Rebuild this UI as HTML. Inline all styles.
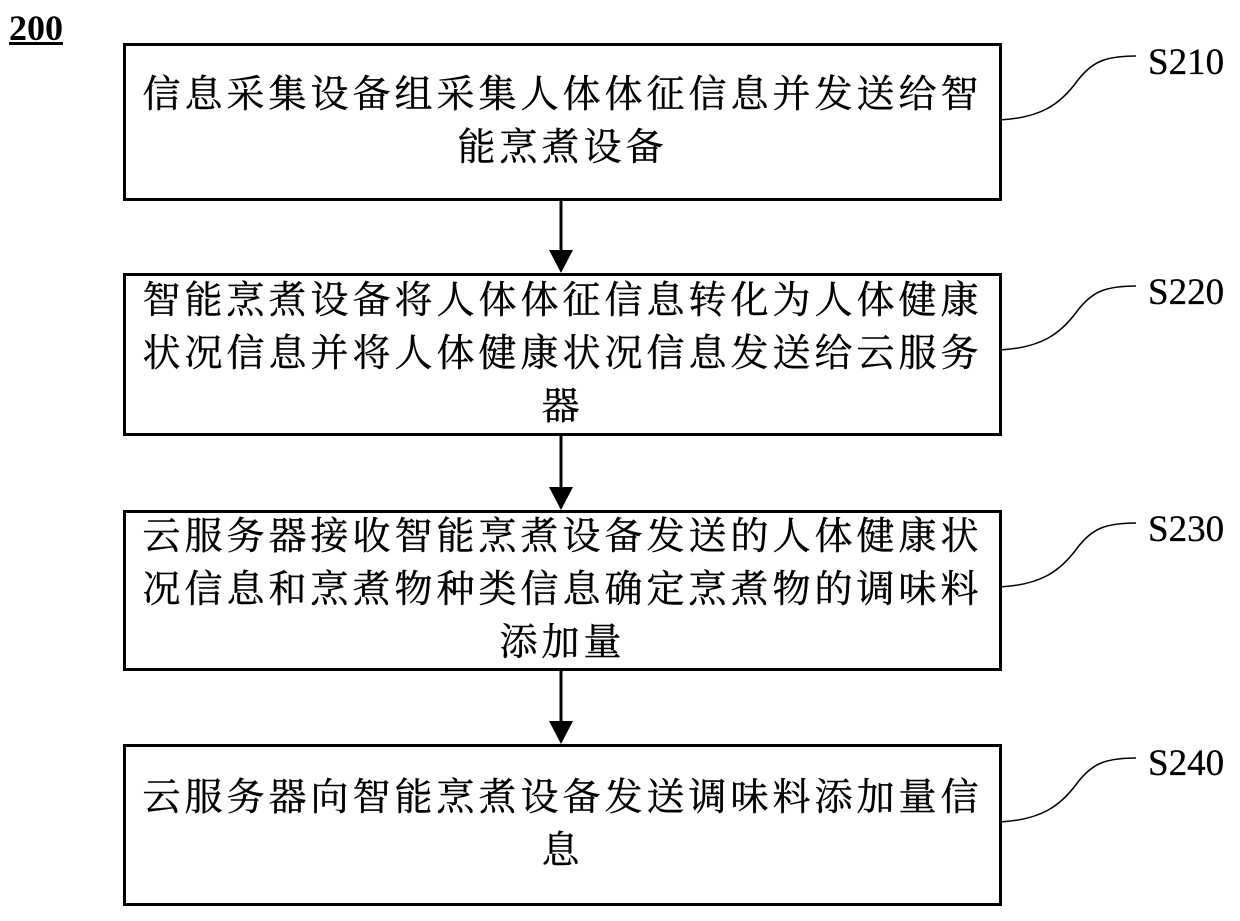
<!DOCTYPE html>
<html><head><meta charset="utf-8"><style>
body{margin:0;width:1240px;height:921px;background:#fff;position:relative;overflow:hidden}
.b{position:absolute;left:123px;width:873px;border:3px solid #000;display:flex;align-items:center;justify-content:center}
.t{width:846px;text-align:center;font-family:"Liberation Serif","Noto Serif CJK SC","Noto Sans CJK SC",serif;font-size:38px;letter-spacing:4px;line-height:53px;color:#000;-webkit-text-stroke:0.4px #000}
.l{position:absolute;left:1148px;font-family:"Liberation Serif",serif;font-size:37px;line-height:36px;-webkit-text-stroke:0.3px #000}
svg{position:absolute;left:0;top:0}
</style></head><body>
<div style="position:absolute;left:9px;top:9px;font-family:'Liberation Serif',serif;font-weight:bold;font-size:36px;text-decoration:underline;line-height:38px">200</div>
<div class="b" style="top:43px;height:152px"><div class="t">信息采集设备组采集人体体征信息并发送给智能烹煮设备</div></div>
<div class="b" style="top:273px;height:157px"><div class="t">智能烹煮设备将人体体征信息转化为人体健康状况信息并将人体健康状况信息发送给云服务器</div></div>
<div class="b" style="top:510px;height:155px"><div class="t">云服务器接收智能烹煮设备发送的人体健康状况信息和烹煮物种类信息确定烹煮物的调味料添加量</div></div>
<div class="b" style="top:744px;height:156px"><div class="t">云服务器向智能烹煮设备发送调味料添加量信息</div></div>
<svg width="1240" height="921">
<g stroke="#000" stroke-width="3" fill="#000">
<line x1="561" y1="201" x2="561" y2="255"/><polygon points="549,250 573,250 561,273" stroke="none"/>
<line x1="561" y1="436" x2="561" y2="492"/><polygon points="549,487 573,487 561,510" stroke="none"/>
<line x1="561" y1="671" x2="561" y2="726"/><polygon points="549,721 573,721 561,744" stroke="none"/>
</g>
<g stroke="#000" stroke-width="1.5" fill="none">
<path d="M999,120 C1040,118 1060,105 1078,80 C1092,62 1105,56 1136,56"/>
<path d="M999,350 C1040,348 1060,335 1078,310 C1092,292 1105,286 1136,286"/>
<path d="M999,587 C1040,585 1060,572 1078,547 C1092,529 1105,523 1136,523"/>
<path d="M999,822 C1040,820 1060,807 1078,782 C1092,764 1105,758 1136,758"/>
</g>
</svg>
<div class="l" style="top:45px">S210</div>
<div class="l" style="top:275px">S220</div>
<div class="l" style="top:512px">S230</div>
<div class="l" style="top:746px">S240</div>
</body></html>
